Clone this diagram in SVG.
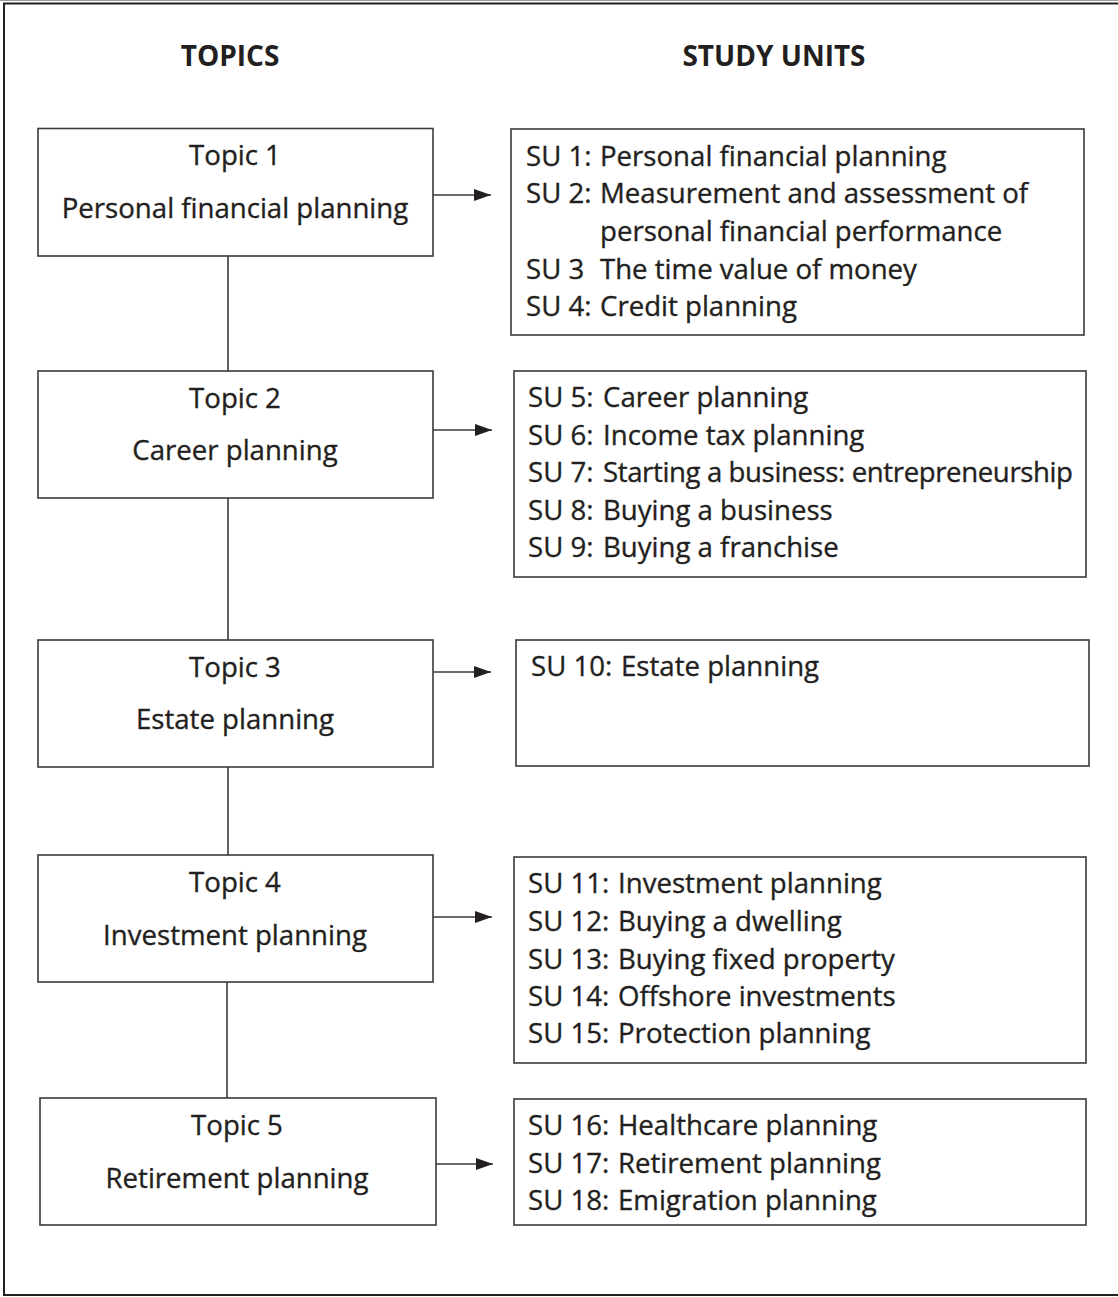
<svg xmlns="http://www.w3.org/2000/svg" width="1118" height="1297" viewBox="0 0 1118 1297">
  <defs>
    <marker id="arrow" viewBox="0 0 17 12" refX="17" refY="6" markerWidth="17" markerHeight="12" markerUnits="userSpaceOnUse" orient="auto">
      <path d="M0,0 L17,6 L0,12 Z" fill="#231f20"/>
    </marker>
  </defs>
  <style>
    .frame { fill: none; stroke: #231f20; stroke-width: 2; }
    .box { fill: #ffffff; stroke: #3a3a3a; stroke-width: 1.6; }
    .link { fill: none; stroke: #3a3a3a; stroke-width: 1.6; }
    .head { font-family: "Open Sans", "Noto Sans", sans-serif; font-weight: bold; font-size: 28px; fill: #231f20; text-anchor: middle; }
    .topic { font-family: "Open Sans", "Noto Sans", sans-serif; font-size: 27.6px; fill: #231f20; stroke: #231f20; stroke-width: 0.35; text-anchor: middle; }
    .su { font-family: "Open Sans", "Noto Sans", sans-serif; font-size: 27.6px; fill: #231f20; stroke: #231f20; stroke-width: 0.35; }
  </style>

  <!-- page frame -->
  <line x1="0" y1="0.5" x2="1118" y2="0.5" stroke="#9a9a9a" stroke-width="1"/>
  <path class="frame" d="M1118,3.5 L4,3.5 L4,1295 L1118,1295"/>

  <!-- column headings -->
  <text class="head" x="230" y="66">TOPICS</text>
  <text class="head" x="774" y="66">STUDY UNITS</text>

  <!-- connectors -->
  <g id="connectors">
    <line class="link" x1="228" y1="256" x2="228" y2="371"/>
    <line class="link" x1="228" y1="498" x2="228" y2="640"/>
    <line class="link" x1="228" y1="767" x2="228" y2="855"/>
    <line class="link" x1="227" y1="982" x2="227" y2="1098"/>
    <line class="link" x1="433" y1="195" x2="491" y2="195" marker-end="url(#arrow)"/>
    <line class="link" x1="433" y1="430" x2="492" y2="430" marker-end="url(#arrow)"/>
    <line class="link" x1="433" y1="672" x2="491" y2="672" marker-end="url(#arrow)"/>
    <line class="link" x1="433" y1="917" x2="492" y2="917" marker-end="url(#arrow)"/>
    <line class="link" x1="436" y1="1164" x2="493" y2="1164" marker-end="url(#arrow)"/>
  </g>

  <!-- topics -->
  <g id="topic1">
    <rect class="box" x="38" y="128.5" width="395" height="127.5"/>
    <text class="topic" x="235" y="165">Topic 1</text>
    <text class="topic" x="235" y="218">Personal financial planning</text>
  </g>
  <g id="topic2">
    <rect class="box" x="38" y="371" width="395" height="127"/>
    <text class="topic" x="235" y="408">Topic 2</text>
    <text class="topic" x="235" y="460">Career planning</text>
  </g>
  <g id="topic3">
    <rect class="box" x="38" y="640" width="395" height="127"/>
    <text class="topic" x="235" y="677">Topic 3</text>
    <text class="topic" x="235" y="729">Estate planning</text>
  </g>
  <g id="topic4">
    <rect class="box" x="38" y="855" width="395" height="127"/>
    <text class="topic" x="235" y="892">Topic 4</text>
    <text class="topic" x="235" y="945">Investment planning</text>
  </g>
  <g id="topic5">
    <rect class="box" x="40" y="1098" width="396" height="127"/>
    <text class="topic" x="237" y="1135">Topic 5</text>
    <text class="topic" x="237" y="1188">Retirement planning</text>
  </g>

  <!-- study units -->
  <g id="units1">
    <rect class="box" x="511" y="129" width="573" height="206"/>
    <text class="su" x="526" y="166">SU 1:</text><text class="su" x="600" y="166">Personal financial planning</text>
    <text class="su" x="526" y="203">SU 2:</text><text class="su" x="600" y="203">Measurement and assessment of</text>
    <text class="su" x="600" y="241">personal financial performance</text>
    <text class="su" x="526" y="279">SU 3</text><text class="su" x="600" y="279">The time value of money</text>
    <text class="su" x="526" y="316">SU 4:</text><text class="su" x="600" y="316">Credit planning</text>
  </g>
  <g id="units2">
    <rect class="box" x="514" y="371" width="572" height="206"/>
    <text class="su" x="528" y="407">SU 5:</text><text class="su" x="603" y="407">Career planning</text>
    <text class="su" x="528" y="445">SU 6:</text><text class="su" x="603" y="445">Income tax planning</text>
    <text class="su" x="528" y="482">SU 7:</text><text class="su" x="603" y="482" textLength="470">Starting a business: entrepreneurship</text>
    <text class="su" x="528" y="520">SU 8:</text><text class="su" x="603" y="520">Buying a business</text>
    <text class="su" x="528" y="557">SU 9:</text><text class="su" x="603" y="557">Buying a franchise</text>
  </g>
  <g id="units3">
    <rect class="box" x="516" y="640" width="573" height="126"/>
    <text class="su" x="531" y="676">SU 10:</text><text class="su" x="621" y="676">Estate planning</text>
  </g>
  <g id="units4">
    <rect class="box" x="514" y="857" width="572" height="206"/>
    <text class="su" x="528" y="893">SU 11:</text><text class="su" x="618" y="893">Investment planning</text>
    <text class="su" x="528" y="931">SU 12:</text><text class="su" x="618" y="931">Buying a dwelling</text>
    <text class="su" x="528" y="969">SU 13:</text><text class="su" x="618" y="969">Buying fixed property</text>
    <text class="su" x="528" y="1006">SU 14:</text><text class="su" x="618" y="1006">Offshore investments</text>
    <text class="su" x="528" y="1043">SU 15:</text><text class="su" x="618" y="1043">Protection planning</text>
  </g>
  <g id="units5">
    <rect class="box" x="514" y="1099" width="572" height="126"/>
    <text class="su" x="528" y="1135">SU 16:</text><text class="su" x="618" y="1135">Healthcare planning</text>
    <text class="su" x="528" y="1173">SU 17:</text><text class="su" x="618" y="1173">Retirement planning</text>
    <text class="su" x="528" y="1210">SU 18:</text><text class="su" x="618" y="1210">Emigration planning</text>
  </g>
</svg>
